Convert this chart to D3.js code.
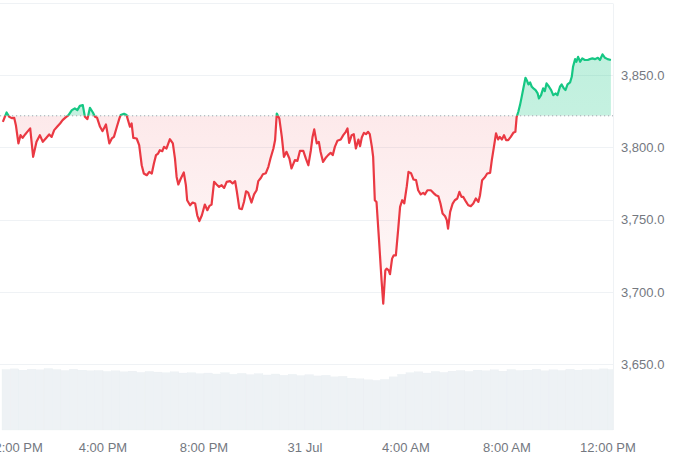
<!DOCTYPE html>
<html>
<head>
<meta charset="utf-8">
<script src="https://cdn.jsdelivr.net/npm/d3@7/dist/d3.min.js"></script>
<style>
  html, body { margin: 0; padding: 0; background: #ffffff; }
  svg { display: block; font-family: "Liberation Sans", Arial, sans-serif; }
</style>
</head>
<body>
<svg id="chart" width="700" height="456"></svg>
<script>
// ---- Data ----
const startTime = new Date(2024, 6, 30, 12, 0);   // 30 Jul 12:00
const endMinutes = 1452;
const baselinePrice = 3821.9;

// minutes after start
const minutes = [2, 11, 17, 23, 29, 33, 39, 44, 49, 55, 60, 67, 74, 82, 90, 97, 105, 112, 118, 124,
  131, 138, 144, 150, 158, 166, 173, 179, 185, 192, 197, 203, 209, 216, 221, 226, 233, 239, 247, 255,
  261, 266, 273, 279, 282, 290, 296, 304, 308, 312, 320, 326, 332, 337, 344, 350, 356, 361, 366, 371,
  375, 381, 385, 391, 399, 406, 411, 415, 419, 425, 432, 437, 440, 447, 453, 459, 464, 469, 475, 482,
  488, 493, 498, 504, 510, 516, 522, 528, 534, 542, 548, 554, 558, 564, 570, 575, 580, 585, 593, 599,
  605, 609, 615, 620, 627, 633, 638, 645, 649, 653, 659, 665, 670, 676, 683, 688, 696, 702, 708, 716,
  722, 728, 734, 738, 742, 748, 753, 757, 763, 770, 775, 781, 786, 791, 797, 805, 811, 817, 821, 825,
  831, 836, 841, 847, 851, 855, 860, 865, 870, 874, 879, 882, 886, 890, 896, 902, 906, 911, 914, 919,
  922, 927, 931, 936, 942, 946, 951, 956, 962, 966, 972, 978, 984, 989, 995, 1001, 1005, 1011, 1019, 1025,
  1031, 1037, 1042, 1047, 1053, 1057, 1060, 1065, 1071, 1076, 1082, 1087, 1092, 1096, 1103, 1108, 1114, 1120, 1126, 1132,
  1136, 1141, 1148, 1153, 1160, 1164, 1169, 1174, 1179, 1183, 1188, 1193, 1198, 1203, 1209, 1215, 1220, 1223, 1227, 1231,
  1235, 1239, 1244, 1248, 1251, 1255, 1259, 1263, 1268, 1273, 1276, 1281, 1286, 1290, 1294, 1300, 1305, 1310, 1316, 1320,
  1326, 1330, 1335, 1339, 1344, 1350, 1354, 1357, 1362, 1365, 1369, 1374, 1379, 1385, 1392, 1397, 1403, 1409, 1416, 1421,
  1427, 1433, 1439, 1447];

const prices = [3817.7, 3824.2, 3821.2, 3820.3, 3820.5, 3815.4, 3802.8, 3808.5, 3806.6, 3809.0, 3810.8, 3813.2, 3793.5, 3803.9, 3808.5, 3803.9, 3806.6, 3809.0, 3807.3, 3812.0,
  3814.3, 3816.6, 3818.9, 3820.5, 3822.4, 3825.8, 3827.0, 3825.8, 3828.8, 3829.3, 3821.2, 3819.6, 3827.4, 3824.2, 3821.2, 3820.5, 3814.3, 3811.3, 3815.9, 3802.8,
  3806.2, 3807.3, 3814.3, 3820.1, 3822.4, 3823.3, 3822.4, 3814.3, 3816.6, 3806.6, 3806.2, 3801.6, 3787.7, 3782.0, 3780.8, 3783.1, 3782.0, 3788.9, 3794.7, 3795.8,
  3798.1, 3797.4, 3800.4, 3799.3, 3805.7, 3802.8, 3792.4, 3779.6, 3774.4, 3778.5, 3782.7, 3773.9, 3763.5, 3760.0, 3761.9, 3761.2, 3753.1, 3749.0, 3753.1, 3760.5,
  3756.6, 3759.6, 3760.5, 3776.2, 3774.4, 3772.7, 3773.9, 3772.0, 3776.2, 3776.7, 3775.1, 3776.7, 3769.7, 3757.8, 3757.3, 3762.3, 3769.7, 3768.8, 3761.9, 3767.5,
  3770.4, 3776.7, 3778.9, 3781.5, 3782.2, 3786.6, 3792.4, 3799.3, 3805.1, 3823.5, 3820.1, 3807.3, 3793.5, 3797.0, 3792.4, 3785.5, 3791.2, 3790.7, 3797.6, 3797.6,
  3792.4, 3787.7, 3798.1, 3807.3, 3812.5, 3802.8, 3803.9, 3797.0, 3790.0, 3793.1, 3794.7, 3796.3, 3794.7, 3800.4, 3804.6, 3805.5, 3808.5, 3810.8, 3813.2, 3803.2,
  3808.5, 3809.2, 3799.3, 3805.5, 3800.9, 3806.9, 3810.1, 3809.2, 3810.8, 3809.2, 3800.4, 3793.5, 3763.5, 3762.3, 3735.8, 3708.1, 3692.0, 3715.0, 3716.2, 3715.0,
  3712.3, 3723.1, 3725.4, 3725.4, 3745.0, 3758.9, 3763.5, 3761.4, 3773.2, 3783.1, 3782.2, 3777.8, 3777.4, 3770.4, 3767.5, 3768.6, 3767.5, 3770.4, 3770.4, 3768.6,
  3767.0, 3766.3, 3761.2, 3754.3, 3752.4, 3749.7, 3743.9, 3755.4, 3761.2, 3763.5, 3764.7, 3769.3, 3765.8, 3765.8, 3762.3, 3760.0, 3759.4, 3761.2, 3764.7, 3762.3,
  3767.0, 3777.4, 3779.6, 3782.0, 3782.4, 3791.2, 3800.4, 3809.7, 3805.5, 3807.3, 3805.5, 3808.5, 3805.1, 3805.1, 3807.3, 3810.1, 3810.8, 3821.0, 3824.7, 3829.3,
  3835.0, 3840.9, 3848.2, 3845.9, 3843.6, 3845.0, 3842.0, 3840.9, 3839.7, 3837.4, 3833.9, 3836.2, 3840.9, 3839.0, 3844.3, 3842.0, 3839.7, 3836.2, 3837.4, 3836.2,
  3842.0, 3843.6, 3840.9, 3839.7, 3843.6, 3845.0, 3848.9, 3855.8, 3861.1, 3859.3, 3862.7, 3859.3, 3861.6, 3860.5, 3860.5, 3861.1, 3861.6, 3861.1, 3862.0, 3860.5,
  3864.4, 3862.0, 3861.1, 3860.5];

// volume, one bar every 20 minutes (billions, approximate)
const volumeStepMinutes = 20;
const volumes = [18.9, 19.1, 18.7, 19.0, 18.8, 19.2, 18.9, 18.6, 19.0, 18.7, 18.5,
  18.6, 18.3, 18.5, 18.2, 18.4, 18.0, 18.3, 18.1, 17.9, 18.2, 17.8,
  17.9, 17.6, 17.8, 17.5, 17.9, 17.4, 17.7, 17.3, 17.6, 17.2, 17.5,
  17.1, 17.4, 17.0, 17.3, 16.9, 17.1, 16.6, 16.8,
  16.2, 16.0, 15.7, 15.5, 15.8, 16.6,
  17.4, 17.9, 18.2, 17.8, 18.3, 18.0, 18.4,
  18.6, 18.3, 18.7, 18.5, 18.8, 18.4, 18.9, 18.6, 18.7, 19.0, 18.5, 18.8, 18.6, 19.0, 18.7, 18.9, 18.8, 19.1, 18.9];

const yTickValues = [3650, 3700, 3750, 3800, 3850];
const gridValues = [3650, 3700, 3750, 3800, 3850, 3900];
const xTickHours = [0, 4, 8, 12, 16, 20, 24];

// ---- Build ----
const toTime = m => new Date(+startTime + m * 60000);
const data = minutes.map((m, i) => ({ t: toTime(m), p: prices[i] }));

const svg = d3.select("#chart");
const plotLeft = 2, plotRight = 613;
const x = d3.scaleTime().domain([startTime, toTime(endMinutes)]).range([plotLeft, plotRight]);
const y = d3.scaleLinear().domain([3650, 3900]).range([364.3, 2.9]);
const vy = d3.scaleLinear().domain([0, 20]).range([430, 366]);

const RED = "#ea3943", GREEN = "#16c784";
const by = y(baselinePrice);

const defs = svg.append("defs");
defs.append("clipPath").attr("id", "clipAbove")
  .append("rect").attr("x", 0).attr("y", 0).attr("width", 700).attr("height", by);
defs.append("clipPath").attr("id", "clipBelow")
  .append("rect").attr("x", 0).attr("y", by).attr("width", 700).attr("height", 456 - by);

const redGrad = defs.append("linearGradient").attr("id", "redGrad")
  .attr("gradientUnits", "userSpaceOnUse")
  .attr("x1", 0).attr("x2", 0).attr("y1", by).attr("y2", y(3690));
redGrad.append("stop").attr("offset", 0).attr("stop-color", RED).attr("stop-opacity", 0.11);
redGrad.append("stop").attr("offset", 1).attr("stop-color", RED).attr("stop-opacity", 0.03);

const greenGrad = defs.append("linearGradient").attr("id", "greenGrad")
  .attr("gradientUnits", "userSpaceOnUse")
  .attr("x1", 0).attr("x2", 0).attr("y1", y(3865)).attr("y2", by);
greenGrad.append("stop").attr("offset", 0).attr("stop-color", GREEN).attr("stop-opacity", 0.27);
greenGrad.append("stop").attr("offset", 1).attr("stop-color", GREEN).attr("stop-opacity", 0.25);

// volume bars
const barW = x(toTime(volumeStepMinutes)) - x(startTime);
svg.append("g").selectAll("rect").data(volumes).join("rect")
  .attr("x", (d, i) => x(toTime(i * volumeStepMinutes)))
  .attr("y", d => vy(d))
  .attr("width", (d, i) => Math.max(0, Math.min(barW, plotRight - x(toTime(i * volumeStepMinutes)))))
  .attr("height", d => vy(0) - vy(d))
  .attr("fill", "#eef2f5")
  .attr("stroke", "#e9edf1").attr("stroke-width", 0.3);

// grid
svg.append("g").selectAll("line").data(gridValues).join("line")
  .attr("x1", 0).attr("x2", plotRight)
  .attr("y1", d => Math.round(y(d)) + 0.5).attr("y2", d => Math.round(y(d)) + 0.5)
  .attr("stroke", "#eff2f5").attr("stroke-width", 1);
svg.append("line")
  .attr("x1", plotRight + 0.5).attr("x2", plotRight + 0.5)
  .attr("y1", Math.round(y(3900)) + 0.5).attr("y2", 430)
  .attr("stroke", "#eff2f5");

// areas
const area = d3.area().x(d => x(d.t)).y0(by).y1(d => y(d.p));
svg.append("path").datum(data).attr("d", area)
  .attr("fill", "url(#greenGrad)").attr("clip-path", "url(#clipAbove)");
svg.append("path").datum(data).attr("d", area)
  .attr("fill", "url(#redGrad)").attr("clip-path", "url(#clipBelow)");

// baseline dotted
svg.append("line")
  .attr("x1", 0).attr("x2", plotRight)
  .attr("y1", by).attr("y2", by)
  .attr("stroke", "#a0a6b0").attr("stroke-width", 1)
  .attr("stroke-dasharray", "1.2,2.8");

// lines
const line = d3.line().x(d => x(d.t)).y(d => y(d.p));
svg.append("path").datum(data).attr("d", line)
  .attr("fill", "none").attr("stroke", GREEN).attr("stroke-width", 2.2)
  .attr("stroke-linejoin", "round").attr("clip-path", "url(#clipAbove)");
svg.append("path").datum(data).attr("d", line)
  .attr("fill", "none").attr("stroke", RED).attr("stroke-width", 2.2)
  .attr("stroke-linejoin", "round").attr("clip-path", "url(#clipBelow)");

// y labels
const fmtY = d3.format(",.1f");
svg.append("g").selectAll("text").data(yTickValues).join("text")
  .attr("x", 621).attr("y", d => y(d)).attr("dy", "0.35em")
  .attr("font-size", 13).attr("fill", "#74787f")
  .text(d => fmtY(d));

// x labels
const fmtTime = d3.timeFormat("%-I:%M %p");
const fmtDay = d3.timeFormat("%-d %b");
const xTicks = xTickHours.map(h => new Date(+startTime + h * 3600000));
svg.append("g").selectAll("text").data(xTicks).join("text")
  .attr("x", (d, i) => x(d) + (i === 0 ? 13 : 0))
  .attr("y", 452)
  .attr("text-anchor", "middle")
  .attr("font-size", 13).attr("fill", "#74787f")
  .text(d => (d.getHours() === 0 ? fmtDay(d) : fmtTime(d)));
</script>
</body>
</html>
